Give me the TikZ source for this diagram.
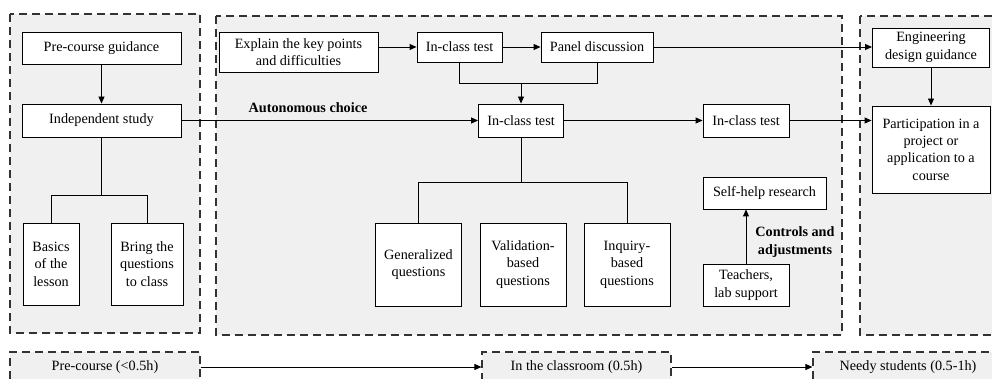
\documentclass[tikz,border=0pt]{standalone}
\usepackage{fontspec}
\setmainfont{Liberation Serif}
\usetikzlibrary{arrows.meta}
\definecolor{regiongray}{RGB}{240,240,240}
\tikzset{
  box/.style={draw, fill=white, line width=0.9pt, align=center, inner sep=1pt, font=\fontsize{14.2}{17.4}\selectfont},
  region/.style={draw=black!80, dash pattern=on 8pt off 5pt, line width=1.1pt, fill=regiongray},
  stage/.style={region, align=center, minimum width=190pt, minimum height=30pt, inner sep=0pt, font=\fontsize{14.2}{17.4}\selectfont},
  conn/.style={line width=0.9pt},
  arr/.style={conn, -{Triangle[length=7pt,width=6pt]}},
  note/.style={align=center, inner sep=0pt, font=\fontsize{14.2}{17.4}\selectfont\bfseries},
}
\begin{document}
\begin{tikzpicture}[x=1pt, y=-1pt]
\clip (0,0) rectangle (992,379);
\fill[white] (0,0) rectangle (992,379);
\draw[region] (10,14) rectangle (200,333);
\draw[region] (216,16) rectangle (842,335);
\draw[region] (860,16) rectangle (1010,335);
\node[stage] (pre) at (105,367) {Pre-course (<0.5h)};
\node[stage, minimum width=189pt] (cls) at (576.5,367) {In the classroom (0.5h)};
\node[stage] (needy) at (908,367) {Needy students (0.5-1h)};

\node[box, minimum width=159pt, minimum height=32pt] (guide) at (101.5,48) {Pre-course guidance};
\node[box, minimum width=159pt, minimum height=33pt] (indep) at (101.5,120.5) {Independent study};
\node[box, minimum width=56pt, minimum height=82pt] (basics) at (51,264) {Basics\\of the\\lesson};
\node[box, minimum width=72pt, minimum height=82pt] (bring) at (147,264) {Bring the\\questions\\to class};

\node[box, minimum width=159pt, minimum height=40pt] (explain) at (298.5,52) {Explain the key points\\and difficulties};
\node[box, minimum width=85pt, minimum height=30pt] (testa) at (459.5,47) {In-class test};
\node[box, minimum width=112pt, minimum height=30pt] (panel) at (597,47) {Panel discussion};
\node[box, minimum width=85pt, minimum height=33pt] (testb) at (521,120.5) {In-class test};
\node[box, minimum width=86pt, minimum height=33pt] (testc) at (746,120.5) {In-class test};
\foreach \n/\x/\t in {gen/418.5/{Generalized\\questions}, valid/523/{Validation-\\based\\questions}, inq/627/{Inquiry-\\based\\questions}}{
\node[box, minimum width=86pt, minimum height=83pt] (\n) at (\x,264.5) {\t};
}
\node[box, minimum width=123pt, minimum height=32pt] (selfhelp) at (764.5,193) {Self-help research};
\node[box, minimum width=86pt, minimum height=42pt] (teach) at (746,285) {Teachers,\\lab support};

\node[box, minimum width=117pt, minimum height=39pt] (eng) at (931,47.5) {Engineering\\design guidance};
\node[box, minimum width=118pt, minimum height=87pt] (part) at (931,149.5) {Participation in a\\project or\\application to a\\course};

\node[note] (auto) at (308,108) {Autonomous choice};
\node[note] (ctrl) at (795,242) {Controls and\\adjustments};

\coordinate (splitl) at (101.5,195);
\coordinate (merge) at (521,83);
\coordinate (splitm) at (521,182);

\draw[arr] (guide) -- (indep);
\draw[conn] (indep) -- (splitl) -| (basics);
\draw[conn] (splitl) -| (bring);
\draw[arr] (indep) -- (testb);
\draw[arr] (explain.east |- testa) -- (testa);
\draw[arr] (testa) -- (panel);
\draw[conn] (testa.south) |- (merge);
\draw[conn] (panel.south) |- (merge);
\draw[arr] (merge) -- (testb);
\draw[arr] (testb) -- (testc);
\draw[conn] (testb) -- (splitm) -| (gen);
\draw[conn] (splitm) -| (inq);
\draw[arr] (panel) -- (panel.east -| eng.west);
\draw[arr] (testc) -- (testc.east -| part.west);
\draw[arr] (eng) -- (part);
\draw[arr] (teach) -- (teach.north |- selfhelp.south);
\draw[arr] (pre) -- (cls);
\draw[arr] (cls) -- (needy);
\end{tikzpicture}
\end{document}
